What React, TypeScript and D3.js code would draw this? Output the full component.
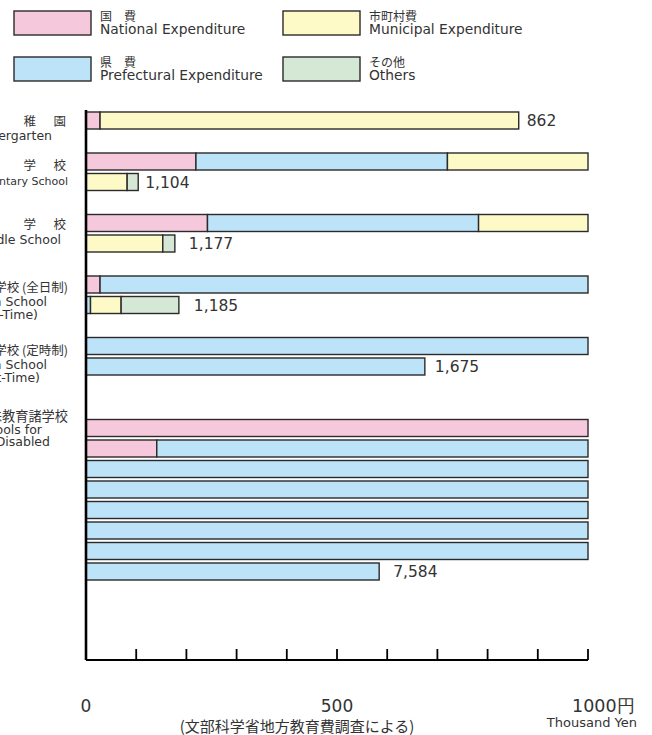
import React from "react";
import * as d3 from "d3";

const categoriesJa = ["幼　稚　園", "小　学　校", "中　学　校", "高等学校 (全日制)", "高等学校 (定時制)", "特殊教育諸学校"];
const categoriesEn = [["Kindergarten"], ["Elementary School"], ["Middle School"], ["High School", "(Full-Time)"], ["High School", "(Part-Time)"], ["Schools for", "the Disabled"]];
const national = [28, 219, 242, 28, 0, 1141];
const prefectural = [0, 501, 540, 981, 1675, 6443];
const municipal = [834, 362, 371, 61, 0, 0];
const others = [0, 22, 24, 115, 0, 0];
const totalLabels = ["862", "1,104", "1,177", "1,185", "1,675", "7,584"];
const seriesJa = ["国　費", "県　費", "市町村費", "その他"];
const seriesEn = ["National Expenditure", "Prefectural Expenditure", "Municipal Expenditure", "Others"];
const xTicks = [0, 100, 200, 300, 400, 500, 600, 700, 800, 900, 1000];
const xTickLabels = ["0", "500", "1000円"];
const unitLabel = "Thousand Yen";
const sourceNote = "(文部科学省地方教育費調査による)";

const COLORS = ["#f5c8dc", "#bce3f7", "#fefac8", "#d5e8d5"];
const STROKE = "#2a2a2a";
const TEXT = "#333";
const JP = "'Noto Sans CJK JP', sans-serif";
const EN = "'DejaVu Sans', sans-serif";

// layout
const groupStartRow = [0, 2, 5, 8, 11, 15];
const labelBase = [126, 170, 229, 292, 355, 421];
const labelGap = [13.5, 15, 15, 13.5, 13.5, 12.5];
const labelEnds = [
  [66, 52],
  [66, 68],
  [66, 61],
  [68, 47, 38],
  [68, 47, 40],
  [68, 42, 50],
];
const jpSize = [12.5, 12.5, 12.5, 12.5, 12.5, 13.2];
const enSize = [12.5, 11, 12.5, 12.5, 12.5, 12.5];
const valueGap = [8, 7, 14, 15, 10, 14];
const spacedOffsets = [72, 30, 0];

export default function App() {
  const W = 652, H = 735;
  const x = d3.scaleLinear().domain([0, 1000]).range([86, 588]);
  const rowY = d3.scaleLinear().domain([0, 22]).range([112, 563]);
  const barH = 17;
  const axisY = 660;

  const series = [national, prefectural, municipal, others];
  type Seg = { key: string; row: number; x0: number; x1: number; color: string };
  const segs: Seg[] = [];
  const valuePos: { row: number; end: number; label: string; gi: number }[] = [];

  categoriesJa.forEach((_, gi) => {
    let cum = 0;
    series.forEach((s, si) => {
      const v = s[gi];
      let start = cum;
      const end = cum + v;
      while (start < end - 1e-9) {
        const r = Math.floor(start / 1000 + 1e-9);
        const rowEnd = Math.min(end, (r + 1) * 1000);
        segs.push({
          key: `${gi}-${si}-${r}`,
          row: groupStartRow[gi] + r,
          x0: start - r * 1000,
          x1: rowEnd - r * 1000,
          color: COLORS[si],
        });
        start = rowEnd;
      }
      cum = end;
    });
    const lastRow = Math.floor((cum - 1e-9) / 1000);
    valuePos.push({ row: groupStartRow[gi] + lastRow, end: cum - lastRow * 1000, label: totalLabels[gi], gi });
  });

  const legendPos = [
    { x: 14, y: 11 },
    { x: 14, y: 57 },
    { x: 283, y: 11 },
    { x: 283, y: 57 },
  ];

  return (
    <svg width={W} height={H} style={{ position: "absolute", left: 0, top: 0, background: "#fff" }}>
      {/* legend */}
      {seriesJa.map((s, i) => (
        <g key={s}>
          <rect x={legendPos[i].x} y={legendPos[i].y} width={77} height={24} fill={COLORS[i]} stroke={STROKE} strokeWidth={1.4} />
          <text x={legendPos[i].x + 86} y={legendPos[i].y + 9.5} fontFamily={JP} fontSize={12} fill={TEXT}>{s}</text>
          <text x={legendPos[i].x + 86} y={legendPos[i].y + 23} fontFamily={EN} fontSize={13.8} fill={TEXT}>{seriesEn[i]}</text>
        </g>
      ))}

      {/* category labels */}
      {categoriesJa.map((c, gi) => {
        const parts = c.split("　");
        const y0 = labelBase[gi];
        return (
          <g key={c}>
            {parts.length > 1
              ? parts.map((p, pi) => (
                  <text
                    key={`j${pi}`}
                    x={labelEnds[gi][0] - spacedOffsets[pi]}
                    y={y0}
                    textAnchor="end"
                    fontFamily={JP}
                    fontSize={jpSize[gi]}
                    fill={TEXT}
                  >
                    {p}
                  </text>
                ))
              : (
                  <text x={labelEnds[gi][0]} y={y0} textAnchor="end" fontFamily={JP} fontSize={jpSize[gi]} fill={TEXT}>
                    {c}
                  </text>
                )}
            {categoriesEn[gi].map((ln, li) => (
              <text
                key={`e${li}`}
                x={labelEnds[gi][li + 1]}
                y={y0 + (li + 1) * labelGap[gi]}
                textAnchor="end"
                fontFamily={EN}
                fontSize={enSize[gi]}
                fill={TEXT}
              >
                {ln}
              </text>
            ))}
          </g>
        );
      })}

      {/* bars */}
      {segs.map((s) => (
        <rect
          key={s.key}
          x={x(s.x0)}
          y={rowY(s.row)}
          width={x(s.x1) - x(s.x0)}
          height={barH}
          fill={s.color}
          stroke={STROKE}
          strokeWidth={1.4}
        />
      ))}

      {/* totals */}
      {valuePos.map((v) => (
        <text
          key={v.label}
          x={x(v.end) + valueGap[v.gi]}
          y={rowY(v.row) + 14}
          fontFamily={EN}
          fontSize={15.5}
          fill={TEXT}
        >
          {v.label}
        </text>
      ))}

      {/* axes */}
      <line x1={x(0)} x2={x(0)} y1={110} y2={axisY} stroke="#000" strokeWidth={2.6} />
      <line x1={x(0)} x2={x(1000)} y1={axisY} y2={axisY} stroke="#000" strokeWidth={2.2} />
      {xTicks.map((t) => (
        <line key={t} x1={x(t)} x2={x(t)} y1={axisY} y2={axisY - 11} stroke="#000" strokeWidth={1.8} />
      ))}
      <text x={x(0)} y={712} textAnchor="middle" fontFamily={EN} fontSize={17} fill={TEXT}>{xTickLabels[0]}</text>
      <text x={x(500)} y={712} textAnchor="middle" fontFamily={EN} fontSize={17} fill={TEXT}>{xTickLabels[1]}</text>
      <text x={x(1000) - 16} y={712} textAnchor="start" fontFamily={EN} fontSize={17.5} fill={TEXT}>{xTickLabels[2]}</text>
      <text x={637} y={727} textAnchor="end" fontFamily={EN} fontSize={13} fill={TEXT}>{unitLabel}</text>
      <text x={297} y={732} textAnchor="middle" fontFamily={JP} fontSize={15} fill={TEXT}>{sourceNote}</text>
    </svg>
  );
}
